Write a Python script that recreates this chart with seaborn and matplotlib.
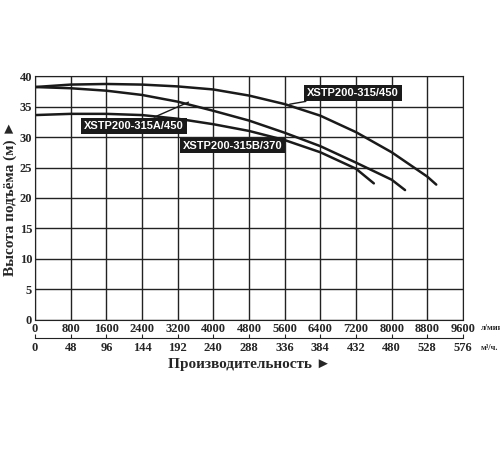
import pandas as pd
import seaborn as sns
import matplotlib.pyplot as plt

# flow in l/min, head in m
q_a = [0, 800, 1600, 2400, 3200, 4000, 4800, 5600, 6400, 7200, 8000, 8800, 9000]
h_a = [38.2, 38.6, 38.7, 38.6, 38.3, 37.8, 36.8, 35.4, 33.5, 30.8, 27.5, 23.5, 22.2]
q_b = [0, 800, 1600, 2400, 3200, 4000, 4800, 5600, 6400, 7200, 8000, 8300]
h_b = [38.2, 38.0, 37.6, 36.9, 35.8, 34.3, 32.7, 30.7, 28.5, 25.8, 23.0, 21.3]
q_c = [0, 800, 1600, 2400, 3200, 4000, 4800, 5600, 6400, 7200, 7600]
h_c = [33.6, 33.8, 33.8, 33.6, 33.0, 32.1, 31.0, 29.5, 27.5, 24.8, 22.4]
names = ["XSTP200-315/450", "XSTP200-315A/450", "XSTP200-315B/370"]

x_ticks = list(range(0, 9601, 800))
m3_ticks = list(range(0, 577, 48))

sns.set_style("white")
plt.rcParams['font.family'] = ['Liberation Serif', 'DejaVu Serif']

rows = []
for name, q, h in zip(names, [q_a, q_b, q_c], [h_a, h_b, h_c]):
    rows += [{"pump": name, "q": a, "h": b} for a, b in zip(q, h)]
df = pd.DataFrame(rows)

fig = plt.figure(figsize=(5, 4.5), dpi=100)
ax = fig.add_axes([0.07, 0.289, 0.856, 0.542])
sns.lineplot(data=df, x="q", y="h", units="pump", estimator=None, ax=ax,
             color="#1a1a1a", lw=1.8)

ax.set_xlim(0, 9600)
ax.set_ylim(0, 40)
ax.set_xticks(x_ticks)
ax.set_yticks(range(0, 41, 5))
ax.set_xlabel("")
ax.grid(True, color="#222222", lw=1)
for s in ax.spines.values():
    s.set_color("#222222")
ax.tick_params(length=0, labelsize=9, pad=2)
for t in ax.get_xticklabels() + ax.get_yticklabels():
    t.set_fontweight("bold")

sec = ax.secondary_xaxis(-0.075, functions=(lambda x: x * 0.06, lambda x: x / 0.06))
sec.set_xticks(m3_ticks)
sec.tick_params(length=3, labelsize=9, direction="in", pad=3)
for t in sec.get_xticklabels():
    t.set_fontweight("bold")
sec.spines["bottom"].set_color("#222222")

ax.text(10000, -0.6, "л/мин.", fontsize=6, fontweight="bold", va="top")
ax.text(10000, -4.0, "м³/ч.", fontsize=6, fontweight="bold", va="top")
ax.text(4800, -6.2, "Производительность ►", fontsize=11, fontweight="bold",
        ha="center", va="top", family=['Liberation Serif', 'DejaVu Sans'])
ax.set_ylabel("Высота подъёма (м) ►", fontsize=11, fontweight="bold", labelpad=2,
              family=['Liberation Serif', 'DejaVu Sans'])

box = dict(boxstyle="square,pad=0.25", fc="#1a1a1a", ec="none")
labels = [(names[0], 7130, 37.2, 5650, 35.3),
          (names[1], 2220, 31.8, 3500, 35.9),
          (names[2], 4430, 28.6, 5400, 29.8)]
for txt, tx, ty, px, py in labels:
    ax.annotate(txt, xy=(px, py), xytext=(tx, ty), ha="center", va="center",
                fontsize=8, fontweight="bold", color="white", family="Liberation Sans",
                bbox=box, arrowprops=dict(arrowstyle="-", color="#1a1a1a", lw=1))

fig.savefig("out.png", dpi=100)
